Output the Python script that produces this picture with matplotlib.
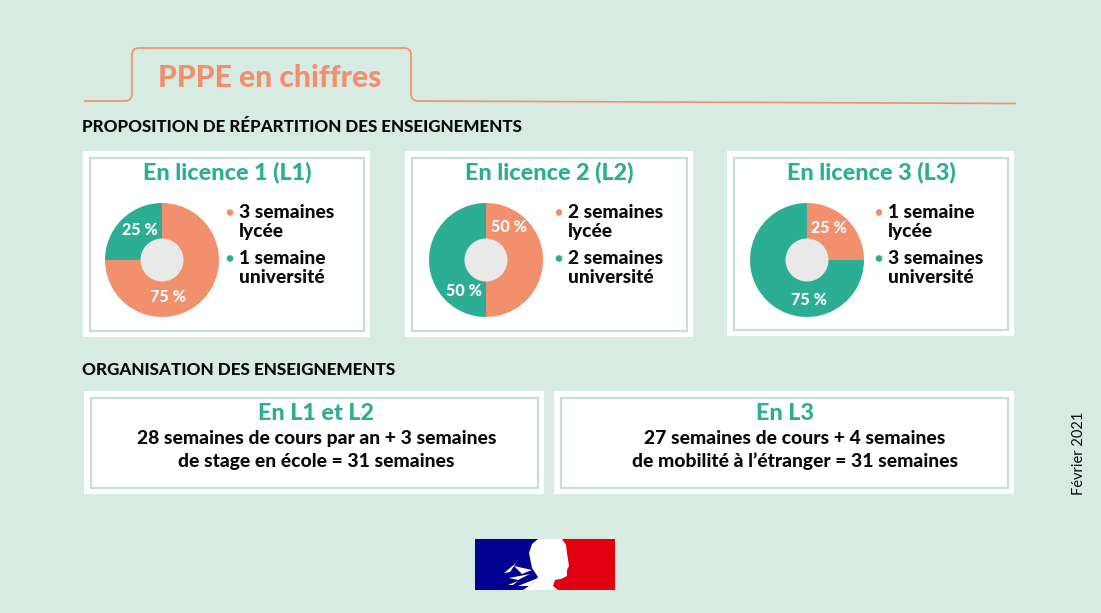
import matplotlib
matplotlib.use("Agg")
import matplotlib.pyplot as plt
from matplotlib.patches import Rectangle, Circle, Polygon
from matplotlib.path import Path
from matplotlib.patches import PathPatch

# ---- data ----
title = "PPPE en chiffres"
section_1 = "PROPOSITION DE RÉPARTITION DES ENSEIGNEMENTS"
section_2 = "ORGANISATION DES ENSEIGNEMENTS"
pie_titles = ["En licence 1 (L1)", "En licence 2 (L2)", "En licence 3 (L3)"]
lycee_pct = [75, 50, 25]
univ_pct = [25, 50, 75]
lycee_labels = ["3 semaines\nlycée", "2 semaines\nlycée", "1 semaine\nlycée"]
univ_labels = ["1 semaine\nuniversité", "2 semaines\nuniversité", "3 semaines\nuniversité"]
org_titles = ["En L1 et L2", "En L3"]
org_texts = ["28 semaines de cours par an + 3 semaines\nde stage en école = 31 semaines",
             "27 semaines de cours + 4 semaines\nde mobilité à l’étranger = 31 semaines"]
date_label = "Février 2021"

# ---- style ----
BG = "#d8ebe3"; ORANGE = "#f28f6c"; GREEN = "#2bae93"; HOLE = "#e9e9e9"
INNER = "#c5e0d8"; BLACK = "#0a0a0a"
W, H = 1101, 613
plt.rcParams["font.family"] = ["Lato", "DejaVu Sans"]

fig = plt.figure(figsize=(W / 100, H / 100), dpi=100, facecolor=BG)
ax = fig.add_axes([0, 0, 1, 1])

def Y(y):
    return H - y

def card(x0, y0, x1, y1, inset=6.5):
    ax.add_patch(Rectangle((x0, Y(y1)), x1 - x0, y1 - y0, fc="white", ec="none", zorder=1))
    ax.add_patch(Rectangle((x0 + inset, Y(y1 - inset)), x1 - x0 - 2 * inset, y1 - y0 - 2 * inset,
                           fc="white", ec=INNER, lw=1.6, zorder=2))

# tab outline
verts = [(84, 101), (125, 101), (132, 101), (132, 94), (132, 55), (132, 48), (139, 48),
         (404, 48), (411, 48), (411, 55), (411, 94), (411, 101), (418, 101), (1016, 103.5)]
codes = [Path.MOVETO, Path.LINETO, Path.CURVE3, Path.CURVE3, Path.LINETO, Path.CURVE3, Path.CURVE3,
         Path.LINETO, Path.CURVE3, Path.CURVE3, Path.LINETO, Path.CURVE3, Path.CURVE3, Path.LINETO]
ax.add_patch(PathPatch(Path([(x, Y(y)) for x, y in verts], codes), fc="none", ec=ORANGE, lw=1.2, zorder=2))
ax.text(269.5, Y(78), title, color=ORANGE, fontsize=21.6, fontweight="black", ha="center", va="center", zorder=3)

ax.text(81.5, Y(127.5), section_1, color=BLACK, fontsize=12.25, fontweight="black", ha="left", va="center")
ax.text(82.5, Y(370), section_2, color=BLACK, fontsize=12.3, fontweight="black", ha="left", va="center")

# pies
cards = [(83, 151, 370, 337), (405, 151, 693, 337), (727, 151, 1014, 336)]
centers = [(162, 260), (486, 260), (807, 260)]
title_x = [227, 549, 871.5]
bullet_x = [230, 559, 879]
legend_x = [239, 568, 888]
lycee_lab = [(168, 297), (509, 227), (829, 228)]
univ_lab = [(140, 230), (464, 291), (809, 300)]

for i in range(3):
    card(*cards[i])
    ax.text(title_x[i], Y(172), pie_titles[i], color=GREEN, fontsize=16.8, fontweight="black",
            ha="center", va="center", zorder=3)
    cx, cy = centers[i]
    wedges, _ = ax.pie([lycee_pct[i], univ_pct[i]], colors=[ORANGE, GREEN], startangle=90, counterclock=False,
                       center=(cx, Y(cy)), radius=57, frame=True, wedgeprops=dict(linewidth=0))
    for w in wedges:
        w.set_zorder(3)
    ax.add_patch(Circle((cx, Y(cy)), 21.5, fc=HOLE, ec="none", zorder=4))
    ax.text(lycee_lab[i][0], Y(lycee_lab[i][1]), f"{lycee_pct[i]} %", color="white", fontsize=11.6,
            fontweight="black", ha="center", va="center", zorder=5)
    ax.text(univ_lab[i][0], Y(univ_lab[i][1]), f"{univ_pct[i]} %", color="white", fontsize=11.6,
            fontweight="black", ha="center", va="center", zorder=5)
    for lab, yy, col in ((lycee_labels[i], 222, ORANGE), (univ_labels[i], 268, GREEN)):
        ax.text(legend_x[i], Y(yy), lab, color=BLACK, fontsize=13.8, fontweight="black", ha="left", va="center",
                linespacing=1.14, zorder=5)
        ax.add_patch(Circle((bullet_x[i], Y(yy - 9.5)), 3.3, fc=col, ec="none", zorder=5))

# organisation cards
org_cards = [(84, 391, 544, 494), (554, 391, 1014, 494)]
org_title_x = [316, 785]
org_text_x = [316.5, 795]
for i in range(2):
    card(*org_cards[i])
    ax.text(org_title_x[i], Y(413), org_titles[i], color=GREEN, fontsize=16.8, fontweight="black",
            ha="center", va="center", zorder=3)
    ax.text(org_text_x[i], Y(450), org_texts[i], color=BLACK, fontsize=13.9, fontweight="black",
            ha="center", va="center", linespacing=1.36, zorder=3)

ax.text(1079, Y(453), date_label, color=BLACK, fontsize=10.5, rotation=90, ha="center", va="center")

# Marianne block
ax.add_patch(Rectangle((475, Y(590)), 70, 51, fc="#000091", ec="none", zorder=2))
ax.add_patch(Rectangle((545, Y(590)), 70, 51, fc="#e1000f", ec="none", zorder=2))
head = [(538, 539), (562, 539), (566, 545), (567, 553), (569, 566), (567, 570), (567, 576), (561, 579),
        (555, 580), (553, 586), (558, 590), (523, 590), (532, 584), (538, 577), (532, 568), (529, 553), (532, 544)]
ax.add_patch(Polygon([(x, Y(y)) for x, y in head], fc="white", ec="none", zorder=3))
for pts in ([(504, 573), (516, 563), (510, 572)], [(514, 566), (532, 570), (522, 574)],
            [(509, 578), (530, 574), (518, 580)], [(508, 585), (518, 581), (513, 585)],
            [(518, 586), (538, 578), (530, 586)]):
    ax.add_patch(Polygon([(x, Y(y)) for x, y in pts], fc="white", ec="none", zorder=3))

ax.set_xlim(0, W)
ax.set_ylim(0, H)
ax.set_aspect("auto")
ax.axis("off")
fig.savefig("out.png", dpi=100, facecolor=BG)
